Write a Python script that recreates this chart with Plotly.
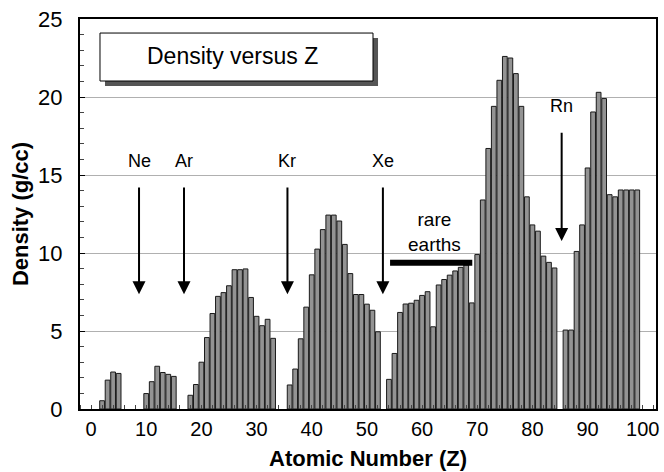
import plotly.graph_objects as go

# Atomic number and density (g/cc); None = not drawn (gases / missing)
Z = list(range(1, 101))
density = [
    None, None, 0.53, 1.85, 2.37, 2.28, None, None, None, None,      # 1-10
    0.99, 1.75, 2.74, 2.34, 2.22, 2.09, None, None, 0.88, 1.57,      # 11-20
    3.00, 4.58, 6.12, 7.22, 7.46, 7.90, 8.93, 8.93, 8.98, 7.15,      # 21-30
    5.94, 5.34, 5.75, 4.53, None, None, 1.54, 2.56, 4.50, 6.53,      # 31-40
    8.60, 10.25, 11.50, 12.43, 12.43, 12.05, 10.55, 8.68, 7.34, 7.34,  # 41-50
    6.72, 6.33, 4.95, None, 1.90, 3.56, 6.19, 6.73, 6.78, 6.97,      # 51-60
    7.28, 7.52, 5.27, 7.95, 8.30, 8.58, 8.85, 9.08, 9.23, 6.80,      # 61-70
    9.90, 13.40, 16.70, 19.40, 21.07, 22.60, 22.50, 21.50, 19.40, 13.60,  # 71-80
    11.80, 11.40, 9.80, 9.40, 9.04, None, 5.06, 5.06, 10.10, 11.80,  # 81-90
    15.45, 19.04, 20.30, 19.90, 13.74, 13.60, 14.04, 14.04, 14.04, 14.04,  # 91-100
]
# the original chart places element Z at category index Z-1
position = [z - 1 for z in Z]

x_ticks = list(range(0, 101, 10))
y_ticks = list(range(0, 26, 5))

gases = ["Ne", "Ar", "Kr", "Xe", "Rn"]
gas_pos = [8.7, 16.85, 35.6, 52.9, 85.3]
gas_label_y = [15.9, 15.9, 15.9, 15.9, 19.4]
gas_arrow_top = [14.3, 14.3, 14.3, 14.3, 17.8]
gas_arrow_tip = [7.35, 7.35, 7.35, 7.35, 10.77]

FONT = "Liberation Sans, Arial, sans-serif"

fig = go.Figure()
fig.add_trace(go.Bar(
    x=position, y=density, width=0.86,
    marker=dict(color="#939393", line=dict(color="#1a1a1a", width=1)),
    showlegend=False,
))

annotations = []
for name, xp, ly, top, tip in zip(gases, gas_pos, gas_label_y, gas_arrow_top, gas_arrow_tip):
    annotations.append(dict(x=xp, y=ly, xref="x", yref="y", text=name, showarrow=False,
                            font=dict(size=18, color="black", family=FONT)))
    annotations.append(dict(x=xp, y=tip, ax=xp, ay=top, xref="x", yref="y",
                            axref="x", ayref="y", text="", showarrow=True,
                            arrowhead=2, arrowsize=1.3, arrowwidth=2, arrowcolor="black"))
annotations.append(dict(x=62.3, y=11.37, xref="x", yref="y", text="rare<br>earths",
                        showarrow=False, xanchor="center", yanchor="middle",
                        font=dict(size=19, color="black", family=FONT)))
annotations.append(dict(x=0.2647, y=0.904, xref="paper", yref="paper", text="Density versus Z",
                        showarrow=False, xanchor="center", yanchor="middle",
                        font=dict(size=23, color="black", family=FONT)))

shapes = [
    # title box shadow + box
    dict(type="rect", xref="paper", yref="paper", x0=0.0434, x1=0.5174, y0=0.828, y1=0.951,
         fillcolor="#555555", line=dict(width=0), layer="above"),
    dict(type="rect", xref="paper", yref="paper", x0=0.0347, x1=0.5087, y0=0.841, y1=0.964,
         fillcolor="white", line=dict(color="black", width=1), layer="above"),
    # rare earths bar
    dict(type="line", xref="x", yref="y", x0=54.2, x1=69.1, y0=9.37, y1=9.37,
         line=dict(color="black", width=6)),
]

fig.update_layout(
    width=664, height=472,
    margin=dict(l=80, r=8, t=19, b=63, autoexpand=False),
    paper_bgcolor="white", plot_bgcolor="white",
    font=dict(family=FONT, color="black"),
    annotations=annotations, shapes=shapes,
    xaxis=dict(
        range=[-2, 102.4], tickvals=x_ticks, ticks="", showgrid=False, zeroline=False,
        showline=True, linecolor="black", linewidth=2, mirror=True, automargin=False,
        tickfont=dict(size=20, family=FONT), ticklabelstandoff=1,
        minor=dict(dtick=2, ticks="inside", ticklen=4, tickcolor="#444"),
        title=dict(text="<b>Atomic Number (Z)</b>", font=dict(size=22, family=FONT), standoff=12),
    ),
    yaxis=dict(
        range=[0, 25], tickvals=y_ticks, ticks="inside", ticklen=5, tickcolor="black",
        showgrid=True, gridcolor="#b0b0b0", gridwidth=1, zeroline=False,
        showline=True, linecolor="black", linewidth=2, mirror=True, automargin=False,
        tickfont=dict(size=22, family=FONT), ticklabelstandoff=11,
        minor=dict(dtick=1, ticks="inside", ticklen=4, tickcolor="#444", showgrid=False),
        title=dict(text="<b>Density (g/cc)</b>", font=dict(size=22, family=FONT), standoff=3),
    ),
)

fig.write_html("out.html")
